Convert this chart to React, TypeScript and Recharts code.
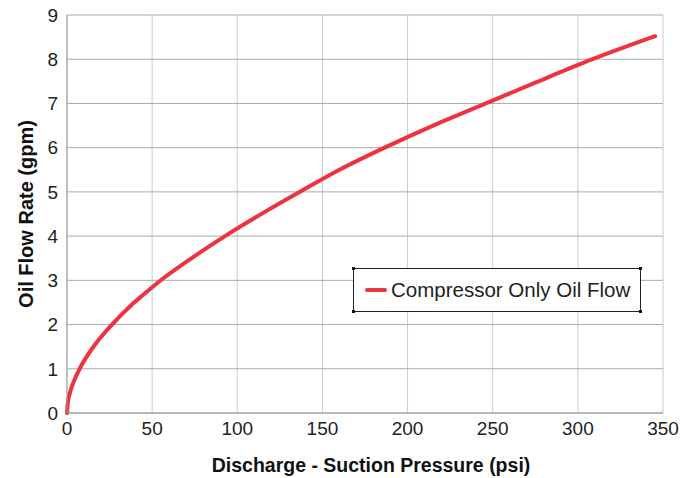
import React from "react";
import { LineChart, Line, XAxis, YAxis, CartesianGrid } from "recharts";

const pressure = [0, 0.5, 2, 4, 7.4, 15, 26.4, 38, 45, 54.7, 72, 92.8, 115, 136.7, 160, 186.5, 215, 246, 275, 308.6, 345.4];
const oilFlow = [0, 0.23, 0.49, 0.715, 1.0, 1.47, 2.0, 2.45, 2.68, 2.99, 3.47, 4.0, 4.52, 5.0, 5.5, 6.0, 6.5, 7.0, 7.47, 8.0, 8.52];
const xTicks = [0, 50, 100, 150, 200, 250, 300, 350];
const yTicks = [0, 1, 2, 3, 4, 5, 6, 7, 8, 9];
const seriesName = "Compressor Only Oil Flow";
const xTitle = "Discharge - Suction Pressure (psi)";
const yTitle = "Oil Flow Rate (gpm)";

const data = pressure.map((p, i) => ({ p, flow: oilFlow[i] }));

const FONT = "'Liberation Sans', Arial, sans-serif";
const RED = "#ee3340";

const Corner = ({ style }: { style: React.CSSProperties }) => (
  <div style={{ position: "absolute", width: 3, height: 3, background: "#111", ...style }} />
);

const LegendBox = () => (
  <div
    style={{
      position: "absolute",
      left: 353,
      top: 268,
      width: 288,
      height: 44,
      boxSizing: "border-box",
      border: "1px solid #222",
      display: "flex",
      alignItems: "center",
      fontFamily: FONT,
      fontSize: 20.5,
      color: "#222",
      background: "#fff",
    }}
  >
    <Corner style={{ left: -2, top: -2 }} />
    <Corner style={{ right: -2, top: -2 }} />
    <Corner style={{ left: -2, bottom: -2 }} />
    <Corner style={{ right: -2, bottom: -2 }} />
    <div style={{ width: 22, height: 4, background: RED, marginLeft: 11, marginRight: 4, borderRadius: 2 }} />
    <span style={{ whiteSpace: "nowrap" }}>{seriesName}</span>
  </div>
);

const YTitle = (props: any) => {
  const vb = props.viewBox || { x: 0, y: 15, width: 67, height: 398 };
  const cx = 26;
  const cy = vb.y + vb.height / 2;
  return (
    <text
      x={cx}
      y={cy}
      transform={`rotate(-90 ${cx} ${cy})`}
      textAnchor="middle"
      dominantBaseline="central"
      style={{ fontFamily: FONT, fontSize: 20, fontWeight: "bold", fill: "#111" }}
    >
      {yTitle}
    </text>
  );
};

export default function App() {
  return (
    <div style={{ position: "absolute", left: 0, top: 0, width: 692, height: 478, background: "#fff" }}>
      <LineChart width={692} height={478} data={data} margin={{ top: 15, right: 29, bottom: 0, left: 0 }}>
        <CartesianGrid horizontal={false} stroke="#cccccc" strokeWidth={1} />
        <CartesianGrid vertical={false} stroke="#aaaaaa" strokeWidth={1} />
        <XAxis
          dataKey="p"
          type="number"
          domain={[0, 350]}
          ticks={xTicks}
          height={65}
          tickSize={0}
          tickMargin={9}
          axisLine={{ stroke: "#999999" }}
          tick={{ fill: "#222", fontSize: 19, fontFamily: FONT }}
          label={{
            value: xTitle,
            position: "insideBottom",
            offset: 6,
            dx: 6,
            style: { fontFamily: FONT, fontSize: 19.5, fontWeight: "bold", fill: "#111" },
          }}
        />
        <YAxis
          type="number"
          domain={[0, 9]}
          ticks={yTicks}
          width={67}
          tickSize={0}
          tickMargin={9}
          axisLine={{ stroke: "#999999" }}
          tick={{ fill: "#222", fontSize: 19, fontFamily: FONT }}
          label={<YTitle />}
        />
        <Line
          type="monotone"
          dataKey="flow"
          name={seriesName}
          stroke={RED}
          strokeWidth={4}
          dot={false}
          isAnimationActive={false}
          strokeLinecap="round"
        />
      </LineChart>
      <LegendBox />
    </div>
  );
}
